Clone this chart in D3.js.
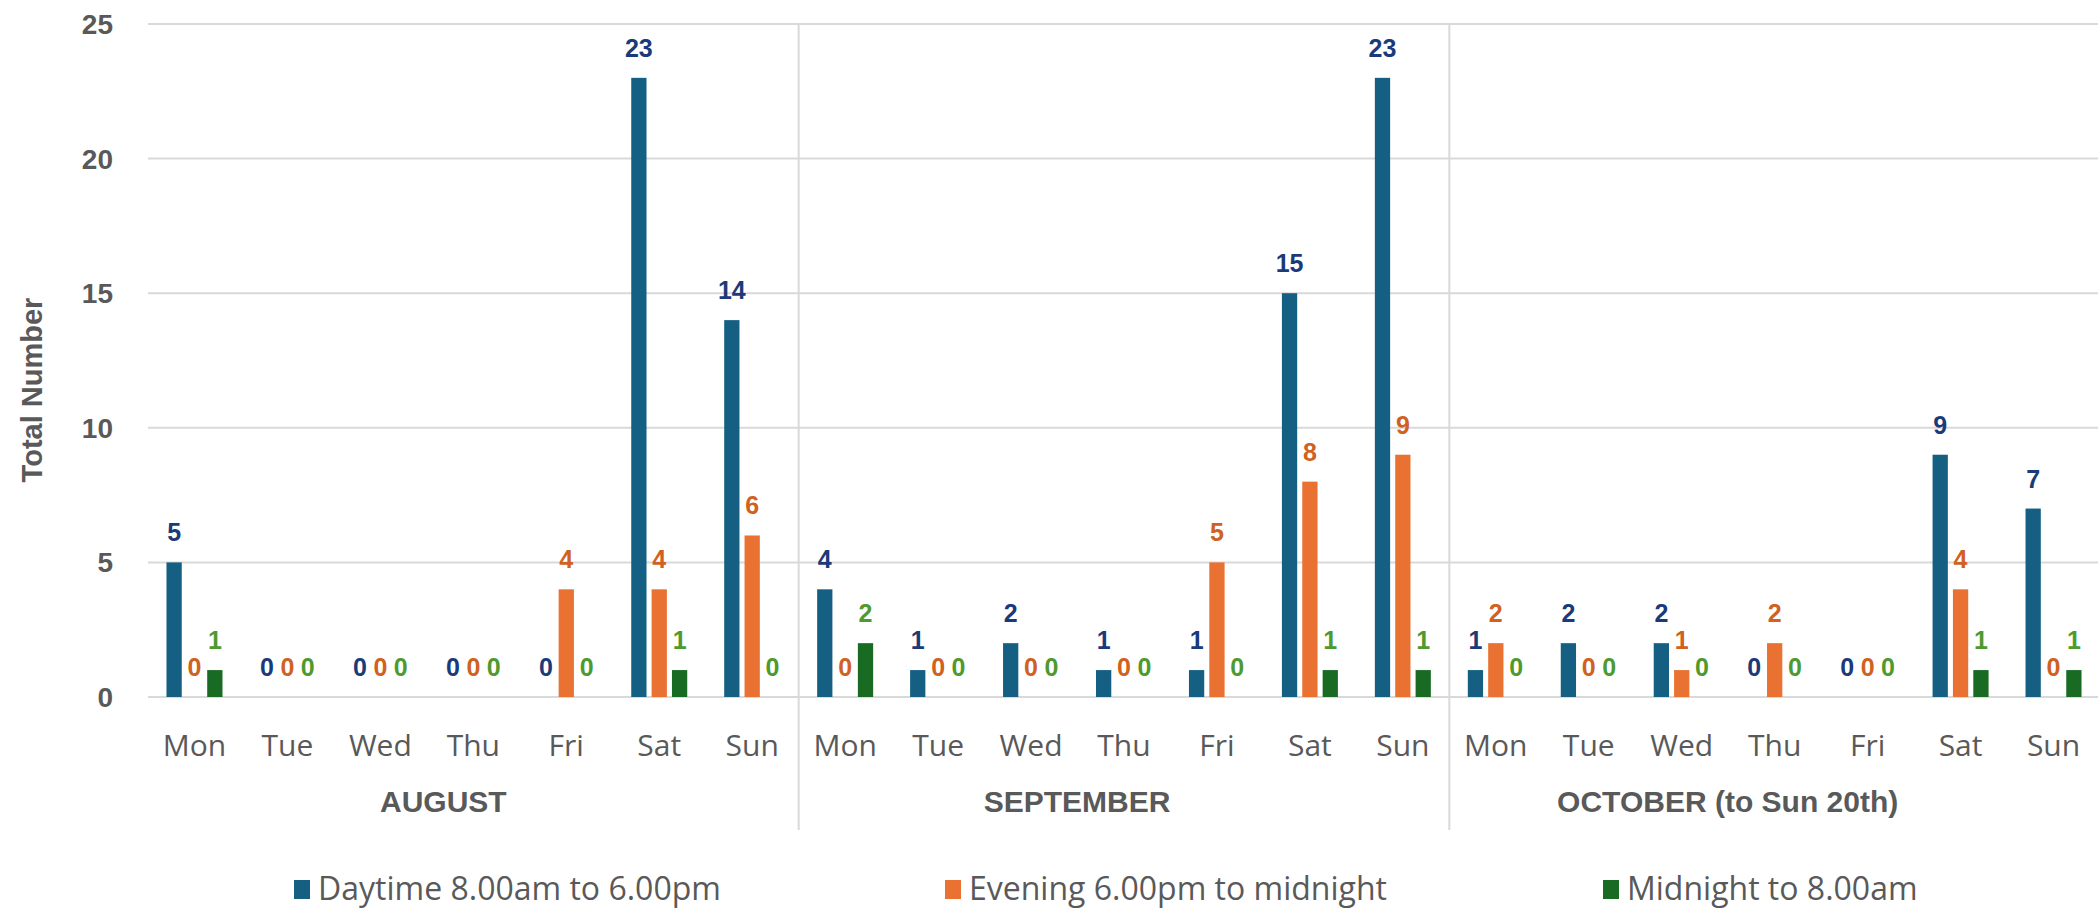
<!DOCTYPE html>
<html>
<head>
<meta charset="utf-8">
<script src="https://cdn.jsdelivr.net/npm/d3@7"></script>
<style>
  body { margin: 0; background: #fff; }
  svg { display: block; }
</style>
</head>
<body>
<div id="chart"></div>
<script>
var months = ["AUGUST", "SEPTEMBER", "OCTOBER (to Sun 20th)"],
    days = ["Mon", "Tue", "Wed", "Thu", "Fri", "Sat", "Sun"],
    series = ["Daytime 8.00am to 6.00pm", "Evening 6.00pm to midnight", "Midnight to 8.00am"];

// one array per series, 7 days per month in month order
var daytime = [5, 0, 0, 0, 0, 23, 14,   4, 1, 2, 1, 1, 15, 23,   1, 2, 2, 0, 0, 9, 7],
    evening = [0, 0, 0, 0, 4, 4, 6,     0, 0, 0, 0, 5, 8, 9,     2, 0, 1, 2, 0, 4, 0],
    midnight = [1, 0, 0, 0, 0, 1, 0,    2, 0, 0, 0, 0, 1, 1,     0, 0, 0, 0, 0, 1, 1];

var yTicks = [0, 5, 10, 15, 20, 25];

var barColors = ["#156082", "#E97132", "#196B24"],
    labelColors = ["#1B3A7A", "#D0611F", "#4E9A2E"];

var width = 2098, height = 912;
var plotLeft = 148, plotRight = 2100, plotTop = 24, plotBottom = 697;

var svg = d3.select("#chart").append("svg")
    .attr("width", width)
    .attr("height", height);

var y = d3.scaleLinear().domain([0, 25]).range([plotBottom, plotTop]);

var xMonth = d3.scaleBand().domain(months).range([plotLeft, plotRight]);
var xDay = d3.scaleBand().domain(days).range([0, xMonth.bandwidth()]);
var xSeries = d3.scaleBand().domain(series).range([-28, 28]).paddingInner(0.25);

// gridlines
svg.append("g").selectAll("line")
    .data(yTicks)
    .join("line")
    .attr("x1", plotLeft)
    .attr("x2", plotRight)
    .attr("y1", d => y(d))
    .attr("y2", d => y(d))
    .attr("stroke", "#d9d9d9")
    .attr("stroke-width", 2);

// y tick labels
svg.append("g").selectAll("text")
    .data(yTicks)
    .join("text")
    .attr("x", 113)
    .attr("y", d => y(d))
    .attr("dy", "0.36em")
    .attr("text-anchor", "end")
    .attr("font-family", "Liberation Sans")
    .attr("font-weight", "bold")
    .attr("font-size", 28)
    .attr("fill", "#595959")
    .text(d => d);

// month separators
svg.append("g").selectAll("line")
    .data(months.slice(1))
    .join("line")
    .attr("x1", d => xMonth(d))
    .attr("x2", d => xMonth(d))
    .attr("y1", plotTop)
    .attr("y2", 830)
    .attr("stroke", "#d9d9d9")
    .attr("stroke-width", 2);

// flatten the data
var rows = [];
months.forEach(function (m, mi) {
    days.forEach(function (d, di) {
        var i = mi * 7 + di;
        [daytime[i], evening[i], midnight[i]].forEach(function (v, si) {
            rows.push({ month: m, day: d, series: series[si], si: si, value: v });
        });
    });
});

function cx(r) {
    return xMonth(r.month) + xDay(r.day) + xDay.bandwidth() / 2 + xSeries(r.series);
}

svg.append("g").selectAll("rect")
    .data(rows.filter(r => r.value > 0))
    .join("rect")
    .attr("x", cx)
    .attr("width", xSeries.bandwidth())
    .attr("y", r => y(r.value))
    .attr("height", r => plotBottom - y(r.value))
    .attr("fill", r => barColors[r.si]);

// data labels
svg.append("g").selectAll("text")
    .data(rows)
    .join("text")
    .attr("x", r => cx(r) + xSeries.bandwidth() / 2)
    .attr("y", r => y(r.value) - 21)
    .attr("text-anchor", "middle")
    .attr("font-family", "Liberation Sans")
    .attr("font-weight", "bold")
    .attr("font-size", 25)
    .attr("fill", r => labelColors[r.si])
    .text(r => r.value);

// day labels
svg.append("g").selectAll("text")
    .data(months.flatMap(m => days.map(d => ({ month: m, day: d }))))
    .join("text")
    .attr("x", d => xMonth(d.month) + xDay(d.day) + xDay.bandwidth() / 2)
    .attr("y", 756)
    .attr("text-anchor", "middle")
    .attr("font-family", "Open Sans")
    .attr("font-size", 30)
    .attr("fill", "#595959")
    .text(d => d.day);

// month labels (Excel sets them a little left of the band centre)
var monthShift = [-30, -47, -47];
svg.append("g").selectAll("text")
    .data(months)
    .join("text")
    .attr("x", (d, i) => xMonth(d) + xMonth.bandwidth() / 2 + monthShift[i])
    .attr("y", 812)
    .attr("text-anchor", "middle")
    .attr("font-family", "Liberation Sans")
    .attr("font-weight", "bold")
    .attr("font-size", 30)
    .attr("fill", "#595959")
    .text(d => d);

// y axis title
svg.append("text")
    .attr("transform", "translate(42,390) rotate(-90)")
    .attr("text-anchor", "middle")
    .attr("font-family", "Liberation Sans")
    .attr("font-weight", "bold")
    .attr("font-size", 29)
    .attr("fill", "#595959")
    .text("Total Number");

// legend
var legendX = [294, 945, 1603];
var legend = svg.append("g").selectAll("g")
    .data(series)
    .join("g")
    .attr("transform", (d, i) => "translate(" + legendX[i] + ",889)");

legend.append("rect")
    .attr("x", 0)
    .attr("y", -9)
    .attr("width", 16)
    .attr("height", 19)
    .attr("fill", (d, i) => barColors[i]);

legend.append("text")
    .attr("x", 24)
    .attr("y", 11)
    .attr("font-family", "Open Sans")
    .attr("font-size", 32)
    .attr("fill", "#595959")
    .text(d => d);
</script>
</body>
</html>
